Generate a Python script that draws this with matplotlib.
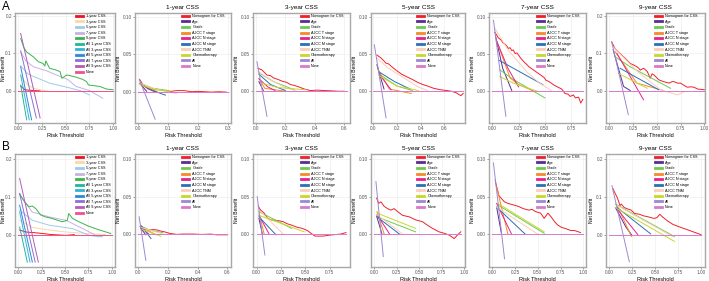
import matplotlib
matplotlib.use("Agg")
import matplotlib.pyplot as plt
from matplotlib.lines import Line2D

plt.rcParams['font.family'] = ['Liberation Sans', 'DejaVu Sans']

# ---- data: (risk threshold list, net benefit list) per curve ----
A_all = {
    '1-year CSS': ([0.025, 0.07, 0.16, 0.23], [0.012, 0.002, 0.0, -0.001]),
    '3-year CSS': ([0.025, 0.1, 0.16, 0.33, 0.51], [0.038, 0.015, 0.006, -0.003, -0.003]),
    '5-year CSS': ([0.025, 0.1, 0.16, 0.33, 0.51, 0.65, 0.75], [0.066, 0.045, 0.038, 0.02, 0.009, 0.0, -0.012]),
    '7-year CSS': ([0.025, 0.08, 0.16, 0.3, 0.44, 0.52, 0.61, 0.75, 0.86, 0.89],
                   [0.104, 0.08, 0.064, 0.053, 0.038, 0.03, 0.011, 0.0, -0.016, -0.021]),
    '9-year CSS': ([0.025, 0.06, 0.088, 0.12, 0.158, 0.21, 0.26, 0.28, 0.29, 0.33, 0.4, 0.44, 0.46, 0.51,
                    0.55, 0.61, 0.68, 0.72, 0.74, 0.8, 0.86, 0.93, 1.0],
                   [0.14, 0.115, 0.104, 0.098, 0.091, 0.078, 0.073, 0.066, 0.08, 0.06, 0.055, 0.051, 0.033, 0.042,
                    0.04, 0.036, 0.03, 0.024, 0.015, 0.013, 0.011, 0.004, 0.002]),
    'All 1-year CSS': ([0.025, 0.088], [0.015, -0.079]),
    'All 3-year CSS': ([0.025, 0.115], [0.042, -0.079]),
    'All 5-year CSS': ([0.025, 0.14], [0.064, -0.079]),
    'All 7-year CSS': ([0.025, 0.19], [0.107, -0.074]),
    'All 9-year CSS': ([0.025, 0.23], [0.154, -0.074]),
    'None': ([0.0, 1.0], [0.0, 0.0]),
}
A_1yr = {
    'Nomogram for CSS': ([0.006, 0.019, 0.04, 0.06, 0.075, 0.09, 0.11, 0.13, 0.154, 0.18, 0.2, 0.244, 0.27, 0.294],
                         [0.017, 0.009, 0.004, 0.004, 0.003, 0.002, 0.001, 0.002, 0.002, 0.0005, 0.001, 0.0, 0.0005, 0.0]),
    'Age': ([0.008, 0.03], [0.011, 0.001]),
    'Grade': ([0.008, 0.05, 0.103], [0.012, 0.005, 0.002]),
    'AJCC T stage': ([0.008, 0.04, 0.065], [0.011, 0.004, 0.001]),
    'AJCC N stage': ([0.008, 0.035, 0.06], [0.012, 0.004, 0.0]),
    'AJCC M stage': ([0.008, 0.05, 0.092], [0.011, 0.002, -0.004]),
    'AJCC TNM': ([0.008, 0.06, 0.13], [0.012, 0.004, -0.002]),
    'Chemotherapy': ([0.008, 0.05, 0.1], [0.01, 0.004, 0.001]),
    'All': ([0.006, 0.058], [0.016, -0.036]),
    'None': ([0.0, 0.3], [0.0, 0.0]),
}
A_3yr = {
    'Nomogram for CSS': ([0.014, 0.04, 0.075, 0.1, 0.12, 0.15, 0.18, 0.21, 0.235, 0.26, 0.29, 0.33, 0.37, 0.42, 0.46, 0.52, 0.56, 0.6],
                         [0.030, 0.028, 0.021, 0.02, 0.017, 0.015, 0.0125, 0.011, 0.008, 0.007, 0.005, 0.002, 0.0, 0.0005, 0.0, -0.0005, -0.001, -0.001]),
    'Age': ([0.02, 0.05], [0.012, 0.0]),
    'Grade': ([0.02, 0.12, 0.26], [0.024, 0.012, 0.001]),
    'AJCC T stage': ([0.02, 0.06, 0.2], [0.016, 0.003, -0.001]),
    'AJCC N stage': ([0.02, 0.08, 0.13], [0.016, 0.005, 0.0]),
    'AJCC M stage': ([0.02, 0.1, 0.2], [0.022, 0.008, 0.0]),
    'AJCC TNM': ([0.014, 0.1, 0.2, 0.28], [0.026, 0.014, 0.004, -0.001]),
    'Chemotherapy': ([0.04, 0.15, 0.34], [0.01, 0.004, 0.001]),
    'All': ([0.007, 0.075], [0.039, -0.035]),
    'None': ([0.0, 0.62], [0.0, 0.0]),
}
A_5yr = {
    'Nomogram for CSS': ([0.03, 0.065, 0.09, 0.107, 0.13, 0.15, 0.18, 0.205, 0.24, 0.29, 0.33, 0.375, 0.42, 0.46, 0.51,
                          0.57, 0.62, 0.66, 0.7, 0.74, 0.76],
                         [0.048, 0.044, 0.04, 0.037, 0.036, 0.033, 0.029, 0.026, 0.022, 0.018, 0.015, 0.011, 0.008, 0.006,
                          0.003, 0.001, 0.0, -0.001, -0.003, -0.007, -0.004]),
    'Age': ([0.03, 0.09], [0.035, 0.002]),
    'Grade': ([0.05, 0.2, 0.33], [0.022, 0.006, 0.0]),
    'AJCC T stage': ([0.037, 0.135, 0.32], [0.029, 0.002, -0.004]),
    'AJCC N stage': ([0.05, 0.15], [0.022, 0.001]),
    'AJCC M stage': ([0.05, 0.18, 0.31], [0.025, 0.012, 0.002]),
    'AJCC TNM': ([0.03, 0.12, 0.25, 0.375, 0.46], [0.044, 0.031, 0.018, 0.005, 0.0]),
    'Chemotherapy': ([0.05, 0.2, 0.38], [0.02, 0.006, 0.0]),
    'All': ([0.008, 0.107], [0.062, -0.037]),
    'None': ([0.0, 0.76], [0.0, 0.0]),
}
A_7yr = {
    'Nomogram for CSS': ([0.023, 0.04, 0.055, 0.07, 0.088, 0.1, 0.12, 0.14, 0.153, 0.17, 0.186, 0.2, 0.218, 0.235, 0.25,
                          0.27, 0.3, 0.33, 0.35, 0.38, 0.4, 0.43, 0.46, 0.49, 0.51, 0.54, 0.56, 0.59, 0.625, 0.66,
                          0.69, 0.72, 0.74, 0.77, 0.79, 0.82, 0.84, 0.86],
                         [0.079, 0.076, 0.072, 0.07, 0.068, 0.065, 0.063, 0.06, 0.057, 0.058, 0.054, 0.055, 0.05, 0.051,
                          0.048, 0.044, 0.039, 0.035, 0.032, 0.029, 0.027, 0.024, 0.021, 0.018, 0.014, 0.012, 0.01,
                          0.007, 0.0045, 0.002, -0.004, -0.005, -0.008, -0.006, -0.010, -0.009, -0.017, -0.012]),
    'Age': ([0.03, 0.1, 0.186], [0.075, 0.03, 0.0]),
    'Grade': ([0.072, 0.2, 0.5], [0.028, 0.015, -0.01]),
    'AJCC T stage': ([0.04, 0.17, 0.25, 0.4], [0.068, 0.017, 0.008, -0.001]),
    'AJCC N stage': ([0.04, 0.15, 0.25], [0.068, 0.03, 0.005]),
    'AJCC M stage': ([0.065, 0.48], [0.041, 0.008]),
    'AJCC TNM': ([0.023, 0.15, 0.33, 0.45, 0.56], [0.085, 0.055, 0.025, 0.01, 0.0]),
    'Chemotherapy': ([0.072, 0.2, 0.43], [0.019, 0.01, -0.001]),
    'All': ([0.013, 0.13], [0.095, -0.035]),
    'None': ([0.0, 0.86], [0.0, 0.0]),
}
A_9yr = {
    'Nomogram for CSS': ([0.025, 0.06, 0.09, 0.113, 0.14, 0.167, 0.2, 0.22, 0.255, 0.29, 0.31, 0.326, 0.36, 0.38, 0.4,
                          0.43, 0.45, 0.47, 0.52, 0.57, 0.63, 0.66, 0.68, 0.716, 0.75, 0.8, 0.82, 0.86, 0.89, 0.93, 0.97, 1.0],
                         [0.131, 0.113, 0.105, 0.1, 0.093, 0.087, 0.078, 0.073, 0.069, 0.064, 0.06, 0.055, 0.06, 0.056,
                          0.051, 0.033, 0.045, 0.042, 0.029, 0.024, 0.02, 0.024, 0.024, 0.02, 0.02, 0.012, 0.009, 0.01,
                          0.009, 0.004, 0.003, 0.002]),
    'Age': ([0.04, 0.15, 0.22], [0.11, 0.011, 0.0]),
    'Grade': ([0.06, 0.22, 0.645], [0.091, 0.064, 0.006]),
    'AJCC T stage': ([0.06, 0.29, 0.57], [0.105, 0.02, 0.0]),
    'AJCC N stage': ([0.08, 0.36], [0.1, -0.025]),
    'AJCC M stage': ([0.113, 0.52], [0.06, 0.002]),
    'AJCC TNM': ([0.04, 0.3, 0.54, 0.72, 0.79], [0.118, 0.05, 0.002, -0.012, -0.003]),
    'Chemotherapy': ([0.096, 0.4], [0.046, 0.006]),
    'All': ([0.025, 0.2], [0.131, -0.065]),
    'None': ([0.0, 1.0], [0.0, 0.0]),
}

B_all = {
    '1-year CSS': ([0.014, 0.079, 0.22, 0.36, 0.51, 0.6], [0.012, 0.007, 0.004, 0.0, -0.002, 0.0]),
    '3-year CSS': ([0.014, 0.15, 0.33, 0.51, 0.72, 0.93], [0.038, 0.019, 0.012, 0.007, 0.003, 0.0]),
    '5-year CSS': ([0.014, 0.15, 0.33, 0.58, 0.76, 0.86, 0.93], [0.065, 0.038, 0.025, 0.016, -0.002, -0.006, -0.001]),
    '7-year CSS': ([0.014, 0.15, 0.33, 0.51, 0.69, 0.83, 0.9], [0.105, 0.06, 0.047, 0.038, 0.016, -0.002, -0.006]),
    '9-year CSS': ([0.014, 0.043, 0.079, 0.114, 0.15, 0.186, 0.24, 0.29, 0.36, 0.47, 0.525, 0.54, 0.58, 0.65,
                    0.757, 0.86, 0.99],
                   [0.109, 0.096, 0.083, 0.074, 0.076, 0.069, 0.052, 0.047, 0.043, 0.034, 0.038, 0.056, 0.043,
                    0.034, 0.022, 0.013, 0.003]),
    'All 1-year CSS': ([0.014, 0.096], [0.02, -0.073]),
    'All 3-year CSS': ([0.014, 0.125], [0.06, -0.073]),
    'All 5-year CSS': ([0.014, 0.15], [0.078, -0.073]),
    'All 7-year CSS': ([0.014, 0.18], [0.109, -0.073]),
    'All 9-year CSS': ([0.014, 0.214], [0.149, -0.073]),
    'None': ([0.0, 1.0], [0.0, 0.0]),
}
B_1yr = {
    'Nomogram for CSS': ([0.011, 0.027, 0.05, 0.073, 0.1, 0.13, 0.15, 0.176, 0.21, 0.256, 0.3, 0.37, 0.43, 0.485, 0.53, 0.577, 0.6],
                         [0.01, 0.0076, 0.006, 0.0054, 0.006, 0.0054, 0.004, 0.003, 0.001, -0.0004, 0.0, 0.0, -0.0005, 0.0,
                          -0.001, -0.001, -0.001]),
    'Age': ([0.015, 0.05], [0.008, -0.001]),
    'Grade': ([0.015, 0.08, 0.165], [0.011, 0.005, 0.002]),
    'AJCC T stage': ([0.015, 0.12], [0.01, -0.001]),
    'AJCC N stage': ([0.015, 0.07], [0.009, 0.0]),
    'AJCC M stage': ([0.015, 0.085], [0.012, -0.006]),
    'AJCC TNM': ([0.015, 0.165], [0.009, 0.0]),
    'Chemotherapy': ([0.027, 0.153], [0.006, -0.003]),
    'All': ([0.005, 0.05], [0.023, -0.035]),
    'None': ([0.0, 0.6], [0.0, 0.0]),
}
B_3yr = {
    'Nomogram for CSS': ([0.018, 0.043, 0.079, 0.114, 0.15, 0.22, 0.275, 0.31, 0.36, 0.42, 0.47, 0.525, 0.56, 0.6,
                          0.686, 0.757, 0.864, 0.918],
                         [0.037, 0.032, 0.028, 0.021, 0.019, 0.018, 0.0165, 0.014, 0.012, 0.009, 0.0076, 0.0045, 0.001,
                          -0.0027, -0.0027, -0.0013, 0.0, 0.002]),
    'Age': ([0.025, 0.06], [0.021, 0.0]),
    'Grade': ([0.025, 0.36], [0.03, 0.0076]),
    'AJCC T stage': ([0.025, 0.079], [0.028, 0.0]),
    'AJCC N stage': ([0.025, 0.13], [0.025, 0.0]),
    'AJCC M stage': ([0.025, 0.2], [0.023, -0.001]),
    'AJCC TNM': ([0.025, 0.275], [0.032, 0.0]),
    'Chemotherapy': ([0.025, 0.49], [0.025, 0.003]),
    'All': ([0.007, 0.086], [0.05, -0.028]),
    'None': ([0.0, 0.92], [0.0, 0.0]),
}
B_5yr = {
    'Nomogram for CSS': ([0.026, 0.048, 0.074, 0.11, 0.148, 0.185, 0.22, 0.26, 0.315, 0.39, 0.46, 0.537, 0.59, 0.648,
                          0.72, 0.78, 0.833, 0.89, 0.926, 0.963],
                         [0.048, 0.041, 0.043, 0.037, 0.034, 0.032, 0.034, 0.030, 0.025, 0.023, 0.019, 0.0165, 0.012,
                          0.0076, 0.003, 0.001, -0.0013, -0.006, -0.0013, 0.003]),
    'Age': ([0.026, 0.085], [0.024, 0.0]),
    'Grade': ([0.03, 0.46], [0.023, 0.003]),
    'AJCC T stage': ([0.03, 0.11], [0.03, 0.0]),
    'AJCC N stage': ([0.03, 0.17], [0.026, 0.0]),
    'AJCC M stage': ([0.03, 0.28], [0.023, 0.0]),
    'AJCC TNM': ([0.03, 0.315], [0.026, 0.0]),
    'Chemotherapy': ([0.03, 0.46], [0.028, 0.0076]),
    'All': ([0.018, 0.1], [0.07, -0.03]),
    'None': ([0.0, 0.96], [0.0, 0.0]),
}
B_7yr = {
    'Nomogram for CSS': ([0.03, 0.046, 0.057, 0.068, 0.095, 0.133, 0.17, 0.23, 0.285, 0.34, 0.4, 0.437, 0.475, 0.53,
                          0.57, 0.61, 0.646, 0.684, 0.72, 0.76, 0.8, 0.855, 0.91, 0.97],
                         [0.072, 0.063, 0.059, 0.052, 0.048, 0.043, 0.041, 0.039, 0.037, 0.034, 0.032, 0.033, 0.030,
                          0.028, 0.021, 0.028, 0.023, 0.0165, 0.012, 0.009, 0.0076, 0.005, 0.0045, 0.002]),
    'Age': ([0.046, 0.1], [0.036, 0.0]),
    'Grade': ([0.057, 0.57], [0.039, 0.001]),
    'AJCC T stage': ([0.046, 0.17], [0.063, 0.0]),
    'AJCC N stage': ([0.046, 0.21], [0.041, 0.0]),
    'AJCC M stage': ([0.046, 0.36], [0.036, 0.0]),
    'AJCC TNM': ([0.046, 0.51], [0.036, -0.001]),
    'Chemotherapy': ([0.057, 0.57], [0.041, 0.003]),
    'All': ([0.011, 0.133], [0.095, -0.033]),
    'None': ([0.0, 1.0], [0.0, 0.0]),
}
B_9yr = {
    'Nomogram for CSS': ([0.038, 0.065, 0.084, 0.103, 0.115, 0.13, 0.16, 0.2, 0.237, 0.275, 0.33, 0.37, 0.427, 0.485,
                          0.52, 0.55, 0.58, 0.637, 0.695, 0.77, 0.847, 0.92, 1.0],
                         [0.122, 0.108, 0.099, 0.086, 0.077, 0.081, 0.072, 0.068, 0.065, 0.056, 0.054, 0.05, 0.047,
                          0.043, 0.045, 0.054, 0.047, 0.036, 0.027, 0.020, 0.0135, 0.007, 0.0]),
    'Age': ([0.065, 0.18, 0.24], [0.072, 0.02, 0.0]),
    'Grade': ([0.065, 0.71], [0.081, -0.005]),
    'AJCC T stage': ([0.084, 0.24], [0.077, -0.005]),
    'AJCC N stage': ([0.084, 0.31], [0.068, 0.0]),
    'AJCC M stage': ([0.084, 0.45], [0.072, 0.002]),
    'AJCC TNM': ([0.084, 0.69], [0.077, -0.005]),
    'Chemotherapy': ([0.065, 0.71], [0.072, -0.018]),
    'All': ([0.027, 0.217], [0.13, -0.072]),
    'None': ([0.0, 1.0], [0.0, 0.0]),
}

titles = ['', '1-year CSS', '3-year CSS', '5-year CSS', '7-year CSS', '9-year CSS']

colors_all = {
    '1-year CSS': '#E8161E', '3-year CSS': '#FBD7A6', '5-year CSS': '#9CCBEA', '7-year CSS': '#C6B2E2',
    '9-year CSS': '#39B54A', 'All 1-year CSS': '#23B49B', 'All 3-year CSS': '#2DB7D2', 'All 5-year CSS': '#2F86DE',
    'All 7-year CSS': '#8C70D2', 'All 9-year CSS': '#B45CB8', 'None': '#F0508C',
}
colors_var = {
    'Nomogram for CSS': '#F0202A', 'Age': '#5B2C91', 'Grade': '#6CCB4F', 'AJCC T stage': '#F58A2A',
    'AJCC N stage': '#E5218A', 'AJCC M stage': '#2A6FB8', 'AJCC TNM': '#FCCDB8', 'Chemotherapy': '#C8D72D',
    'All': '#9E88D0', 'None': '#D87ACB',
}

lims_A = [(-0.035, 1.02, -0.0875, 0.209), (-0.009, 0.31, -0.041, 0.105), (-0.02, 0.64, -0.044, 0.105),
          (-0.02, 0.775, -0.044, 0.105), (-0.03, 0.89, -0.044, 0.105), (-0.035, 1.007, -0.0875, 0.209)]
lims_B = [(-0.036, 1.036, -0.086, 0.214), (-0.023, 0.625, -0.044, 0.107), (-0.036, 0.96, -0.044, 0.107),
          (-0.037, 1.01, -0.044, 0.107), (-0.038, 1.03, -0.044, 0.107), (-0.038, 1.045, -0.086, 0.214)]
q = [0, .25, .5, .75, 1]
xt_A = [q, [0, .1, .2, .3], [0, .2, .4, .6], [0, .2, .4, .6], q[:4], q]
xt_B = [q, [0, .2, .4, .6], q[:4], q, q, q]

W, H = 709, 281
fig = plt.figure(figsize=(W / 100, H / 100), dpi=100)
lefts = [15, 135, 253, 371, 489, 606]
widths = [100, 96, 97, 94, 97, 99]


def fmt(vals):
    if any(abs(v * 10 - round(v * 10)) > 1e-9 for v in vals):
        return ['%.2f' % v for v in vals]
    return ['%.1f' % v for v in vals]


def panel(px, top, bottom, curves, cols, lim, xt, title, leg_x):
    ax = fig.add_axes([px[0] / W, 1 - bottom / H, px[1] / W, (bottom - top) / H])
    for name, (xs, ys) in curves.items():
        ax.plot(xs, ys, color=cols[name], lw=0.7)
    ax.set_xlim(lim[0], lim[1])
    ax.set_ylim(lim[2], lim[3])
    ax.set_xticks(xt)
    ax.set_xticklabels(fmt(xt))
    yt = [0, .1, .2] if lim[3] > 0.15 else [0, .05, .1]
    ax.set_yticks(yt)
    ax.set_yticklabels(fmt(yt))
    ax.grid(True, color='#EBEBEB', lw=0.4)
    ax.set_axisbelow(True)
    for s in ax.spines.values():
        s.set_color('#A8A8A8')
        s.set_linewidth(1.0)
    ax.tick_params(labelsize=3.4, colors='#555555', length=1.2, width=0.4, pad=1)
    ax.set_xlabel('Risk Threshold', fontsize=4, labelpad=1.5)
    ax.set_ylabel('Net Benefit', fontsize=3.6, labelpad=1.5)
    if px[0] < 50:
        ax.yaxis.set_label_coords(-0.085, 0.5)
    if title:
        ax.set_title(title, fontsize=4.6, pad=3)
    handles = [Line2D([], [], color=cols[n], lw=2.0) for n in curves]
    ax.legend(handles, list(curves.keys()), loc='upper left', bbox_to_anchor=(leg_x, 1.0), frameon=False,
              fontsize=2.7, handlelength=1.9, handletextpad=0.8, labelspacing=0.42, borderpad=0.3,
              borderaxespad=0.0)
    return ax


rowA = [A_all, A_1yr, A_3yr, A_5yr, A_7yr, A_9yr]
rowB = [B_all, B_1yr, B_3yr, B_5yr, B_7yr, B_9yr]
for i in range(6):
    cols = colors_all if i == 0 else colors_var
    lx = 0.6 if i == 0 else 0.48
    panel((lefts[i], widths[i]), 13, 123, rowA[i], cols, lims_A[i], xt_A[i], titles[i], lx)
    panel((lefts[i], widths[i]), 154, 267, rowB[i], cols, lims_B[i], xt_B[i], titles[i], lx)

fig.text(2 / W, 1 - 1 / H, 'A', fontsize=8.5, va='top', ha='left')
fig.text(2 / W, 1 - 141 / H, 'B', fontsize=8.5, va='top', ha='left')

fig.savefig('out.png', dpi=100)
